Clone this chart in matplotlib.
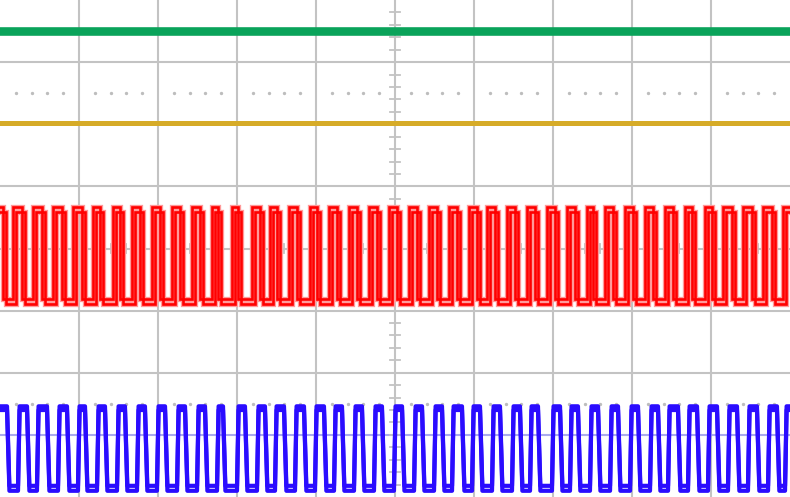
import numpy as np
import matplotlib.pyplot as plt

# === Scope screen: 10 x 8 divisions, values in divisions ===
green_level = 3.50
yellow_level = 2.02

# red channel: edge times (div)
red_rises = [0.165, 0.418, 0.671, 0.924, 1.177, 1.430, 1.671, 1.924, 2.177, 2.430,
             2.684, 2.937, 3.190, 3.418, 3.658, 3.924, 4.165, 4.418, 4.671, 4.924,
             5.177, 5.430, 5.684, 5.937, 6.165, 6.418, 6.671, 6.924, 7.177, 7.430,
             7.658, 7.911, 8.165, 8.418, 8.671, 8.924, 9.152, 9.405, 9.658, 9.911]
red_falls = [0.038, 0.278, 0.532, 0.785, 1.038, 1.266, 1.519, 1.772, 2.025, 2.278,
             2.532, 2.759, 3.013, 3.291, 3.506, 3.759, 4.013, 4.266, 4.519, 4.772,
             5.025, 5.278, 5.532, 5.785, 6.038, 6.266, 6.519, 6.772, 7.025, 7.278,
             7.506, 7.759, 8.013, 8.266, 8.519, 8.759, 9.013, 9.266, 9.519, 9.772]
red_high = [0.66, 0.59]
red_low = [-0.81, -0.89]

# blue channel
blue_rises = [0.228, 0.468, 0.734, 0.987, 1.228, 1.481, 1.734, 1.987, 2.241, 2.494,
              2.747, 3.000, 3.253, 3.481, 3.734, 3.987, 4.228, 4.481, 4.734, 4.987,
              5.241, 5.494, 5.722, 5.975, 6.228, 6.481, 6.709, 6.987, 7.215, 7.468,
              7.722, 7.975, 8.228, 8.456, 8.709, 8.962, 9.215, 9.468, 9.722, 9.937]
blue_falls = [0.089, 0.342, 0.595, 0.848, 1.076, 1.329, 1.582, 1.835, 2.089, 2.342,
              2.595, 2.823, 3.101, 3.354, 3.595, 3.848, 4.101, 4.329, 4.582, 4.835,
              5.089, 5.342, 5.595, 5.848, 6.076, 6.329, 6.582, 6.810, 7.089, 7.316,
              7.570, 7.823, 8.076, 8.329, 8.582, 8.823, 9.076, 9.329, 9.582, 9.835]
blue_high = [-2.54, -2.60]
blue_low = [-3.82, -3.90]


def square(rises, falls, hi, lo, shift=0.0, ramp_r=0.0, ramp_f=0.0):
    edges = sorted([(t, 'r') for t in rises] + [(t, 'f') for t in falls])
    xs, ys = [0.0], [hi if edges[0][1] == 'f' else lo]
    for t, kind in edges:
        t = t + shift
        if kind == 'r':
            xs += [t, t + ramp_r]
            ys += [lo, hi]
        else:
            xs += [t, t + ramp_f]
            ys += [hi, lo]
    xs.append(10.0)
    ys.append(ys[-1])
    return xs, ys


fig = plt.figure(figsize=(7.9, 4.97), dpi=100)
ax = fig.add_axes([0, 0, 1, 1])
ax.set_xlim(0, 10)
ax.set_ylim(-4, 4)
ax.set_axis_off()

grid_c = '#c3c3c3'
for gx in range(1, 10):
    ax.axvline(gx, color=grid_c, lw=1.5, zorder=1)
for gy in range(-3, 4):
    ax.axhline(gy, color='#aaaaee' if gy == -3 else grid_c, lw=1.5, zorder=1)

# minor ticks on the centre cross
for tx in np.arange(0.2, 10, 0.2):
    ax.plot([tx, tx], [-0.08, 0.08], color=grid_c, lw=1.3, zorder=1)
for ty in np.arange(-3.8, 4, 0.2):
    ax.plot([4.94, 5.06], [ty, ty], color=grid_c, lw=1.3, zorder=1)

# dotted reference lines
dots = [d for d in np.arange(0.2, 10, 0.2) if abs(d - round(d)) > 0.05]
for lvl in (2.5, -2.5):
    ax.plot(dots, [lvl] * len(dots), ls='none', marker='o', ms=1.4,
            color='#bdbdbd', zorder=1)

# flat channels
ax.plot([0, 10], [green_level, green_level], color='#0aa35a', lw=6.2, zorder=3)
ax.plot([0, 10], [yellow_level, yellow_level], color='#d6ab28', lw=3.6, zorder=3)

# red channel: two overlapped sweeps with a pale halo
red_traces = [square(red_rises, red_falls, red_high[0], red_low[0]),
              square(red_rises, red_falls, red_high[1], red_low[1], shift=0.04)]
for xs, ys in red_traces:
    ax.plot(xs, ys, color='#ff9a9a', lw=3.8, zorder=3, solid_joinstyle='miter')
for xs, ys in red_traces:
    ax.plot(xs, ys, color='#ff0000', lw=1.9, zorder=4, solid_joinstyle='miter')

# blue channel
for hi, lo in zip(blue_high, blue_low):
    xs, ys = square(blue_rises, blue_falls, hi, lo, ramp_r=0.02, ramp_f=0.03)
    ax.plot(xs, ys, color='#2a0cff', lw=3.0, zorder=4)

fig.savefig('out.png', dpi=100)
